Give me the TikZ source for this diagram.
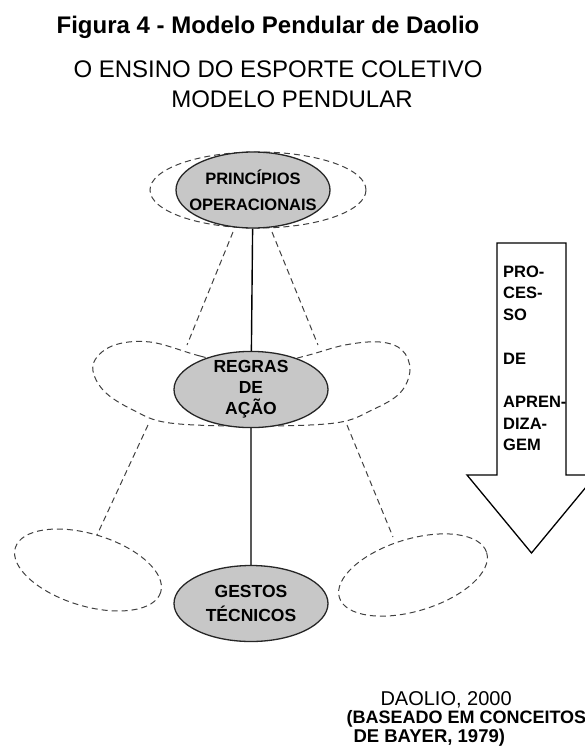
\documentclass[tikz,border=0pt]{standalone}
\usepackage{fontspec}
\setmainfont{Liberation Sans}
\usepackage{tikz}
\usetikzlibrary{shapes.geometric}

\begin{document}
\begin{tikzpicture} [ x=1pt, y=-1pt,
    bloco/.style={ellipse, draw=black!85, line width=1.3pt, fill=black!22,
      minimum width=154pt, minimum height=76pt, inner xsep=-14pt, inner ysep=-2pt, align=center},
    tracos/.style={draw=black!75, line width=1pt, dash pattern=on 6pt off 4pt},
    haste/.style={draw=black, line width=1.4pt},
  ]
    \useasboundingbox (0,0) rectangle (585,756);
    \clip (0,0) rectangle (585,756);

    % titulos
    \path (268,33) node[anchor=base, font=\bfseries\fontsize{24}{28}\selectfont] (tit1) {Figura 4 - Modelo Pendular de Daolio}
    (278,77.5) node[anchor=base, font=\fontsize{24}{28}\selectfont] (tit2) {O ENSINO DO ESPORTE COLETIVO}
    (292,107.5) node[anchor=base, font=\fontsize{24}{28}\selectfont] (tit3) {MODELO PENDULAR}
    ;

    % contornos tracejados
    \draw[tracos] (258,190) ellipse [x radius=108, y radius=38];
    \draw[tracos] plot[smooth cycle, tension=0.6] coordinates {
      (252,368) (200,356) (150,342) (112,346) (93,365) (103,390) (133,410)
      (170,423) (252,426) (335,423) (372,410) (400,393) (410,370) (402,350)
      (380,342) (345,345) (305,356)};
    \draw[tracos, rotate around={-17:(88,570)}] (88,570) ellipse [x radius=76, y radius=36];
    \draw[tracos, rotate around={17:(413,575)}] (413,575) ellipse [x radius=77, y radius=36];

    \coordinate (ce1) at (233,232);
    \coordinate (ce2) at (187,345);
    \coordinate (cd1) at (272,232);
    \coordinate (cd2) at (318,345);
    \coordinate (be1) at (148,425);
    \coordinate (be2) at (97,535);
    \coordinate (bd1) at (347,425);
    \coordinate (bd2) at (393,537);
    \draw[tracos] (ce1) -- (ce2)
    (cd1) -- (cd2)
    (be1) -- (be2)
    (bd1) -- (bd2)
    ;

    % pendulo
    \node[bloco, font=\bfseries\fontsize{16.5}{26}\selectfont] (prin) at (253,190) {PRINCÍPIOS\\OPERACIONAIS};
    \node[bloco, font=\bfseries\fontsize{17.5}{21}\selectfont] (regras) at (251,389.5) {REGRAS\\DE\\AÇÃO};
    \node[bloco, font=\bfseries\fontsize{17.5}{24}\selectfont] (gestos) at (251,603.5) {GESTOS\\TÉCNICOS};
    \draw[haste] (prin) -- (regras)
    (regras) -- (gestos)
    ;

    % seta do processo
    \draw[line width=1.3pt, fill=white] (497,243) -- (566,243) -- (566,475) -- (596,475)
    -- (531.5,553) -- (467,475) -- (497,475) -- cycle;
    \node[anchor=north west, inner sep=0pt, align=left, font=\bfseries\fontsize{16.5}{21.7}\selectfont] (proc) at (503,265.5)
      {PRO-\\CES-\\SO\\[21.7pt]DE\\[21.7pt]APREN-\\DIZA-\\GEM};

    % fonte
    \path (377,705) node[anchor=base west, font=\fontsize{20}{22}\selectfont] (fonte1) {DAOLIO, 2000}
    (343,723) node[anchor=base west, font=\bfseries\fontsize{18}{22}\selectfont] (fonte2) {(BASEADO EM CONCEITOS}
    (350,742) node[anchor=base west, font=\bfseries\fontsize{18.5}{22}\selectfont] (fonte3) {DE BAYER, 1979)}
    ;

\end{tikzpicture}
\end{document}
